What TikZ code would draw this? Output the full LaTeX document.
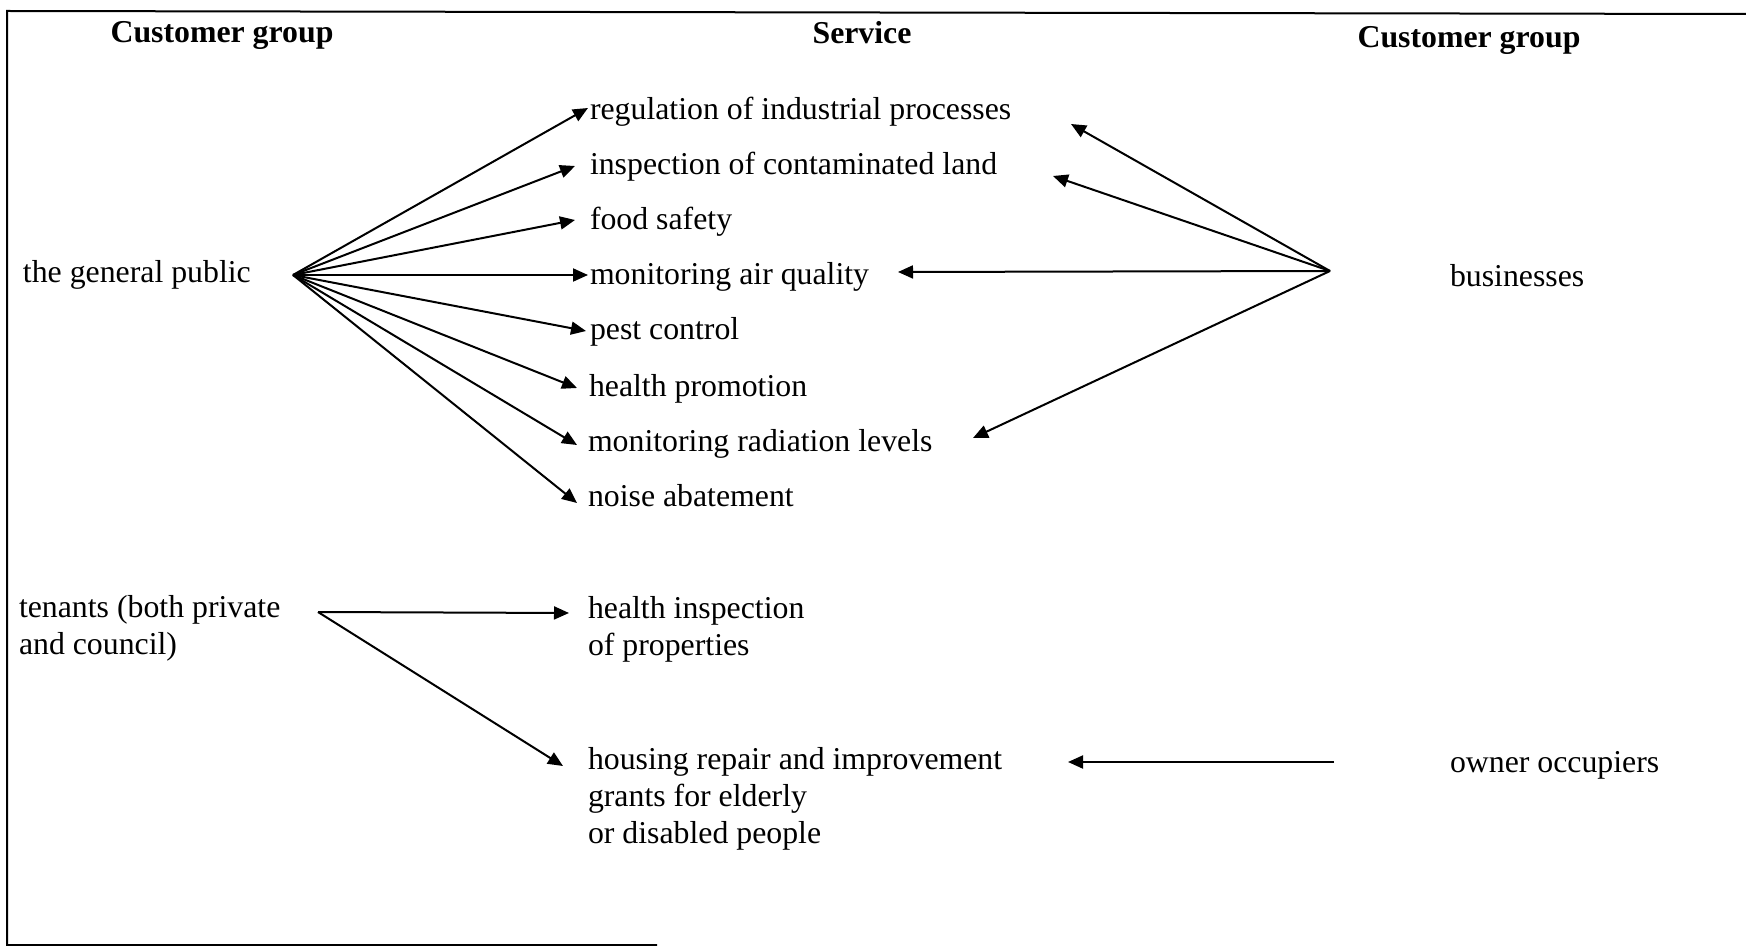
\documentclass[tikz,border=0pt]{standalone}
\usepackage{fontspec}
\setmainfont{Liberation Serif}
\usetikzlibrary{arrows.meta}
\begin{document}
\begin{tikzpicture}[x=0.5pt,y=-0.5pt,
  lbl/.style={inner sep=0pt,outer sep=0pt,anchor=base west,align=left,
    font=\fontsize{15.9}{18.5}\selectfont},
  hdr/.style={inner sep=0pt,outer sep=0pt,anchor=base,
    font=\fontsize{15.9}{18.5}\selectfont\bfseries},
  link/.style={line width=1pt,-{Triangle[length=7.5pt,width=6.5pt]}},
  frame/.style={line width=1pt}]
\useasboundingbox (0,0) rectangle (1746,946);

% frame
\draw[frame] (1746,14) -- (7,11) -- (7,945) -- (657,945);

% column headings
\node[hdr] (hl) at (222,43) {Customer group};
\node[hdr] (hs) at (862,44) {Service};
\node[hdr] (hr) at (1469,48) {Customer group};

% customer groups (multi-line labels sit on the baseline of their last line)
\node[lbl] (gp) at (23,283) {the general public};
\node[lbl] (bus) at (1450,287) {businesses};
\node[lbl] (ten) at (19,654) {tenants (both private\\and council)};
\node[lbl] (own) at (1450,772) {owner occupiers};

% services
\node[lbl] (reg) at (590,120) {regulation of industrial processes};
\node[lbl] (insp) at (590,175) {inspection of contaminated land};
\node[lbl] (food) at (590,230) {food safety};
\node[lbl] (air) at (590,285) {monitoring air quality};
\node[lbl] (pest) at (590,340) {pest control};
\node[lbl] (hp) at (589,397) {health promotion};
\node[lbl] (rad) at (588,452) {monitoring radiation levels};
\node[lbl] (noise) at (588,507) {noise abatement};
\node[lbl] (hip) at (588,655) {health inspection\\of properties};
\node[lbl] (hous) at (588,843) {housing repair and improvement\\grants for elderly\\or disabled people};

% connector end points
\coordinate (gpo) at (293,275);
\coordinate (buso) at (1330,271);
\coordinate (teno) at (318,612);
\coordinate (owno) at (1334,762);

\coordinate (regL) at (588,108);
\coordinate (inspL) at (575,166);
\coordinate (foodL) at (575,220);
\coordinate (airL) at (588,275);
\coordinate (pestL) at (586,331);
\coordinate (hpL) at (577,388);
\coordinate (radL) at (577,445);
\coordinate (noiseL) at (577,503);
\coordinate (regR) at (1071,124);
\coordinate (inspR) at (1053,176);
\coordinate (airR) at (898,272);
\coordinate (radR) at (973,438);
\coordinate (hipL) at (569,613);
\coordinate (housL) at (563,766);
\coordinate (housR) at (1068,762);

% the general public
\foreach \t in {regL,inspL,foodL,airL,pestL,hpL,radL,noiseL}
  \draw[link] (gpo) -- (\t);
% businesses
\foreach \t in {regR,inspR,airR,radR}
  \draw[link] (buso) -- (\t);
% tenants
\draw[link] (teno) -- (hipL);
\draw[link] (teno) -- (housL);
% owner occupiers
\draw[link] (owno) -- (housR);
\end{tikzpicture}
\end{document}
